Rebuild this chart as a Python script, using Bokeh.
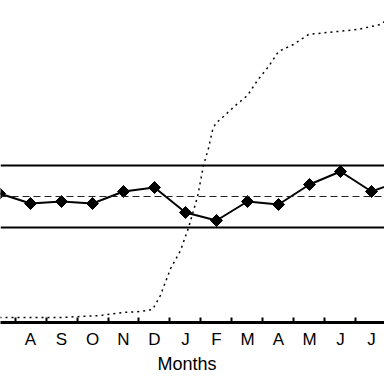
from bokeh.plotting import figure
from bokeh.models import Range1d, FixedTicker, Title, Span
from bokeh.embed import file_html
from bokeh.resources import INLINE

# ---- data ----
month_labels = ["J", "A", "S", "O", "N", "D", "J", "F", "M", "A", "M", "J", "J", "A"]
month_pos = list(range(len(month_labels)))
rate = [12.9, 11.9, 12.1, 11.9, 13.1, 13.5, 11.0, 10.2, 12.1, 11.8, 13.8, 15.1, 13.1, 14.2]
center_line = 12.6
upper_limit = 15.7
lower_limit = 9.5
cum_pos = [0.0, 1.97, 3.26, 3.97, 4.55, 4.94, 5.19, 5.52, 5.84, 6.10, 6.39, 6.58, 6.74,
           6.87, 6.97, 7.19, 7.61, 8.00, 8.32, 8.68, 9.00, 9.48, 9.97, 10.58, 11.55, 12.29, 12.42]
cum_val = [0.5, 0.5, 0.7, 1.0, 1.1, 1.3, 2.7, 5.4, 7.2, 9.5, 12.6, 15.7, 17.4,
           19.2, 19.9, 20.5, 21.7, 22.7, 24.2, 25.6, 27.1, 27.8, 28.8, 29.0, 29.3, 29.8, 30.1]

p = figure(width=384, height=384, output_backend="svg", toolbar_location=None,
           x_range=Range1d(0.032, 12.42), y_range=Range1d(0, 32.2),
           y_axis_location=None, min_border_left=0, min_border_right=0,
           min_border_top=0, min_border_bottom=62)
p.outline_line_color = None
p.xgrid.visible = False
p.ygrid.visible = False
p.background_fill_color = "white"
p.border_fill_color = "white"

for lvl in (upper_limit, lower_limit):
    p.add_layout(Span(location=lvl, dimension="width", line_color="black", line_width=2))
p.add_layout(Span(location=center_line, dimension="width", line_color="#222222",
                  line_width=1, line_dash="7 4"))

p.line(cum_pos, cum_val, line_color="black", line_width=1.5, line_dash="2 4")
p.line(month_pos, rate, line_color="black", line_width=2)
p.scatter(month_pos, rate, marker="square", angle=0.785398, size=8.5,
          fill_color="black", line_color="black")

ax = p.xaxis[0]
ax.ticker = FixedTicker(ticks=month_pos, minor_ticks=[i + 0.5 for i in range(-1, 14)])
ax.major_label_overrides = {i: s for i, s in enumerate(month_labels)}
ax.axis_line_width = 3
ax.axis_line_color = "black"
ax.major_tick_line_color = None
ax.major_tick_out = 0
ax.major_tick_in = 0
ax.minor_tick_in = 5
ax.minor_tick_out = 0
ax.minor_tick_line_width = 2
ax.minor_tick_line_color = "black"
ax.major_label_text_font = "Liberation Sans"
ax.major_label_text_font_size = "17px"
ax.major_label_text_color = "black"
ax.major_label_standoff = 7

t = Title(text="Months", align="left", offset=157, standoff=0, text_font="Liberation Sans",
          text_font_size="18px", text_font_style="normal", text_color="black")
p.add_layout(t, "below")

open("out.html", "w").write(file_html(p, INLINE))
